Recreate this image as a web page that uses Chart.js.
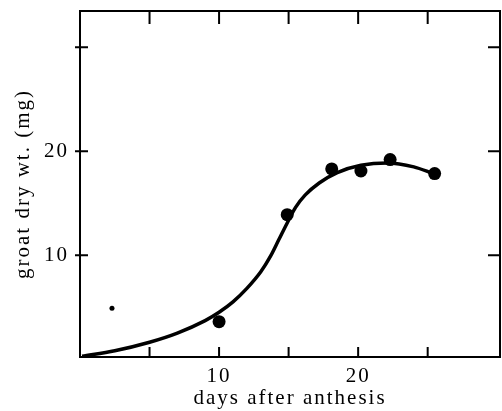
<!DOCTYPE html>
<html>
<head>
<meta charset="utf-8">
<script src="https://cdn.jsdelivr.net/npm/chart.js@4/dist/chart.umd.min.js"></script>
<style>
  html, body { margin: 0; padding: 0; background: #fff; }
  canvas { display: block; }
</style>
</head>
<body>
<canvas id="chart" width="502" height="411"></canvas>
<script>
// measured points (days after anthesis, groat dry wt mg)
const pointDays = [10.0, 14.9, 18.1, 20.2, 22.3, 25.5];
const pointWeights = [3.6, 13.9, 18.3, 18.1, 19.2, 17.85];

// the lone small dot near the y axis
const dotDays = [2.3];
const dotWeights = [4.9];

// fitted curve
const curveDays = [0.15, 2.5, 5.0, 7.0, 9.0, 10.0, 11.0, 12.0, 13.0, 13.7, 14.3, 14.9, 15.5, 16.2, 17.2, 18.5, 20.2, 22.1, 24.0, 25.4];
const curveWeights = [0.28, 0.8, 1.62, 2.5, 3.7, 4.5, 5.5, 6.8, 8.4, 9.9, 11.5, 13.1, 14.6, 15.8, 16.95, 17.95, 18.65, 18.88, 18.5, 17.85];

// tick positions
const xTicks = [5, 10, 15, 20, 25];
const xLabels = [10, 20];
const yTicks = [10, 20, 30];
const yLabels = [10, 20];

const xMin = 0, xMax = 30.2;
const yMin = 0.2, yMax = 33.5;

function pairs(xs, ys) {
    return xs.map((x, i) => ({ x: x, y: ys[i] }));
}

// fixed box sizes, no extra label padding
function fixBox(w, h) {
    return function (s) {
        if (w !== null) s.width = w;
        if (h !== null) s.height = h;
        s.paddingTop = 0;
        s.paddingBottom = 0;
        s.paddingLeft = 0;
        s.paddingRight = 0;
    };
}

// ticks are drawn inward (and across the left axis), so do them by hand
const innerTicks = {
    id: 'innerTicks',
    beforeDraw(chart) {
        chart.ctx.letterSpacing = '2px';
    },
    afterDraw(chart) {
        const ctx = chart.ctx;
        const area = chart.chartArea;
        const sx = chart.scales.x;
        const sy = chart.scales.y;
        ctx.save();
        ctx.strokeStyle = '#000';
        ctx.lineWidth = 2;
        ctx.beginPath();
        xTicks.forEach(v => {
            const px = sx.getPixelForValue(v);
            ctx.moveTo(px, area.bottom);
            ctx.lineTo(px, area.bottom - 10);
            ctx.moveTo(px, area.top);
            ctx.lineTo(px, area.top + 13);
        });
        yTicks.forEach(v => {
            const py = sy.getPixelForValue(v);
            ctx.moveTo(area.left - 5, py);
            ctx.lineTo(area.left + 8, py);
            ctx.moveTo(area.right, py);
            ctx.lineTo(area.right - 12, py);
        });
        ctx.stroke();
        ctx.restore();
    }
};

const serif = 'Liberation Serif';

new Chart(document.getElementById('chart'), {
    type: 'scatter',
    data: {
        datasets: [
            {
                label: 'curve',
                data: pairs(curveDays, curveWeights),
                showLine: true,
                borderColor: '#000',
                borderWidth: 3.5,
                cubicInterpolationMode: 'monotone',
                pointRadius: 0,
                fill: false
            },
            {
                label: 'groat',
                data: pairs(pointDays, pointWeights),
                backgroundColor: '#000',
                borderColor: '#000',
                pointRadius: 6.5,
                borderWidth: 0
            },
            {
                label: 'dot',
                data: pairs(dotDays, dotWeights),
                backgroundColor: '#000',
                borderColor: '#000',
                pointRadius: 2.5,
                borderWidth: 0
            }
        ]
    },
    options: {
        responsive: false,
        animation: false,
        layout: { padding: 0, autoPadding: false },
        plugins: {
            legend: { display: false },
            tooltip: { enabled: false }
        },
        scales: {
            x: {
                type: 'linear',
                position: 'bottom',
                min: xMin,
                max: xMax,
                afterFit: fixBox(null, 54),
                grid: { display: false, drawTicks: false },
                border: { display: true, color: '#000', width: 2 },
                ticks: {
                    stepSize: 5,
                    autoSkip: false,
                    maxRotation: 0,
                    padding: 7,
                    color: '#000',
                    font: { family: serif, size: 21 },
                    callback: v => xLabels.includes(v) ? String(v) : ''
                },
                title: {
                    display: true,
                    text: 'days after anthesis',
                    color: '#000',
                    font: { family: serif, size: 21 },
                    padding: { top: 0, bottom: 0 }
                }
            },
            x2: {
                type: 'linear',
                position: 'top',
                min: xMin,
                max: xMax,
                afterFit: fixBox(null, 11),
                grid: { display: false, drawTicks: false },
                border: { display: true, color: '#000', width: 2 },
                ticks: { display: false }
            },
            y: {
                type: 'linear',
                position: 'left',
                min: yMin,
                max: yMax,
                afterFit: fixBox(80, null),
                grid: { display: false, drawTicks: false },
                border: { display: true, color: '#000', width: 2 },
                ticks: {
                    stepSize: 10,
                    autoSkip: false,
                    padding: 11,
                    color: '#000',
                    font: { family: serif, size: 21 },
                    callback: v => yLabels.includes(v) ? String(v) : ''
                },
                title: {
                    display: true,
                    text: 'groat dry wt. (mg)',
                    color: '#000',
                    font: { family: serif, size: 21 },
                    padding: { top: 11, bottom: 0 }
                }
            },
            y2: {
                type: 'linear',
                position: 'right',
                min: yMin,
                max: yMax,
                afterFit: fixBox(2, null),
                grid: { display: false, drawTicks: false },
                border: { display: true, color: '#000', width: 2 },
                ticks: { display: false }
            }
        }
    },
    plugins: [innerTicks]
});
</script>
</body>
</html>
